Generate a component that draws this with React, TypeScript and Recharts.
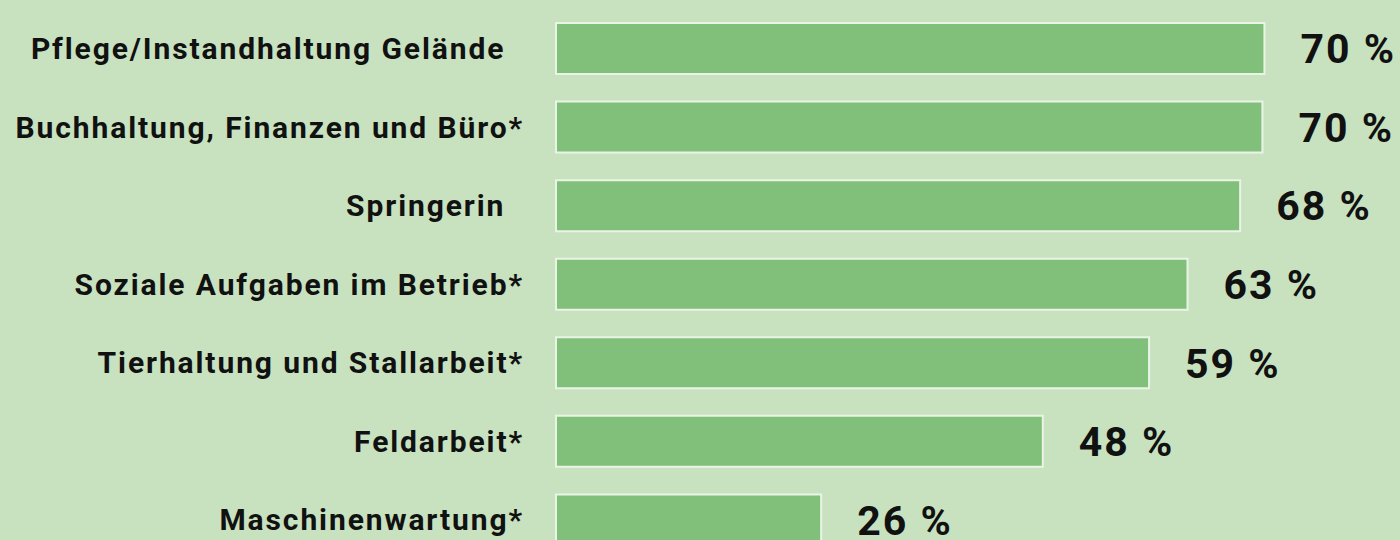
import React from "react";
import { BarChart, Bar, XAxis, YAxis, LabelList } from "recharts";

const categories = [
  "Pflege/Instandhaltung Gelände\u00a0\u00a0",
  "Buchhaltung, Finanzen und Büro*",
  "Springerin\u00a0\u00a0",
  "Soziale Aufgaben im Betrieb*",
  "Tierhaltung und Stallarbeit*",
  "Feldarbeit*",
  "Maschinenwartung*",
];
const shares = [70, 69.8, 67.6, 62.4, 58.6, 48.1, 26.2];
const shareLabels = ["70 %", "70 %", "68 %", "63 %", "59 %", "48 %", "26 %"];

const data = categories.map((c, i) => ({ name: c, value: shares[i], label: shareLabels[i] }));

const BG = "#c8e2c0";
const BAR = "#80c07a";
const FONT = "Roboto, 'DejaVu Sans', sans-serif";

const ValueLabel = (props: any) => {
  const { x, y, width, height, index } = props;
  return (
    <text
      x={x + width + 36}
      y={y + height / 2}
      dy="0.36em"
      textAnchor="start"
      fontFamily={FONT}
      fontWeight={700}
      fontSize={41}
      letterSpacing={2}
      fill="#111"
    >
      {shareLabels[index]}
    </text>
  );
};

export default function App() {
  return (
    <div
      style={{
        position: "fixed",
        left: 0,
        top: 0,
        width: 1400,
        height: 540,
        overflow: "hidden",
        background: BG,
      }}
    >
      <BarChart
        width={1400}
        height={559}
        data={data}
        layout="vertical"
        margin={{ top: 9, right: 4, bottom: 0, left: 0 }}
        barSize={51}
      >
        <XAxis type="number" domain={[0, 83]} hide />
        <YAxis
          type="category"
          dataKey="name"
          width={556}
          axisLine={false}
          tickLine={false}
          tickSize={0}
          tickMargin={32}
          interval={0}
          tick={{ fontFamily: FONT, fontWeight: 700, fontSize: 30, fill: "#111", letterSpacing: 1.9 }}
        />
        <Bar
          dataKey="value"
          fill={BAR}
          stroke="#eaf4e6"
          strokeWidth={2}
          isAnimationActive={false}
        >
          <LabelList dataKey="label" content={ValueLabel} />
        </Bar>
      </BarChart>
    </div>
  );
}
